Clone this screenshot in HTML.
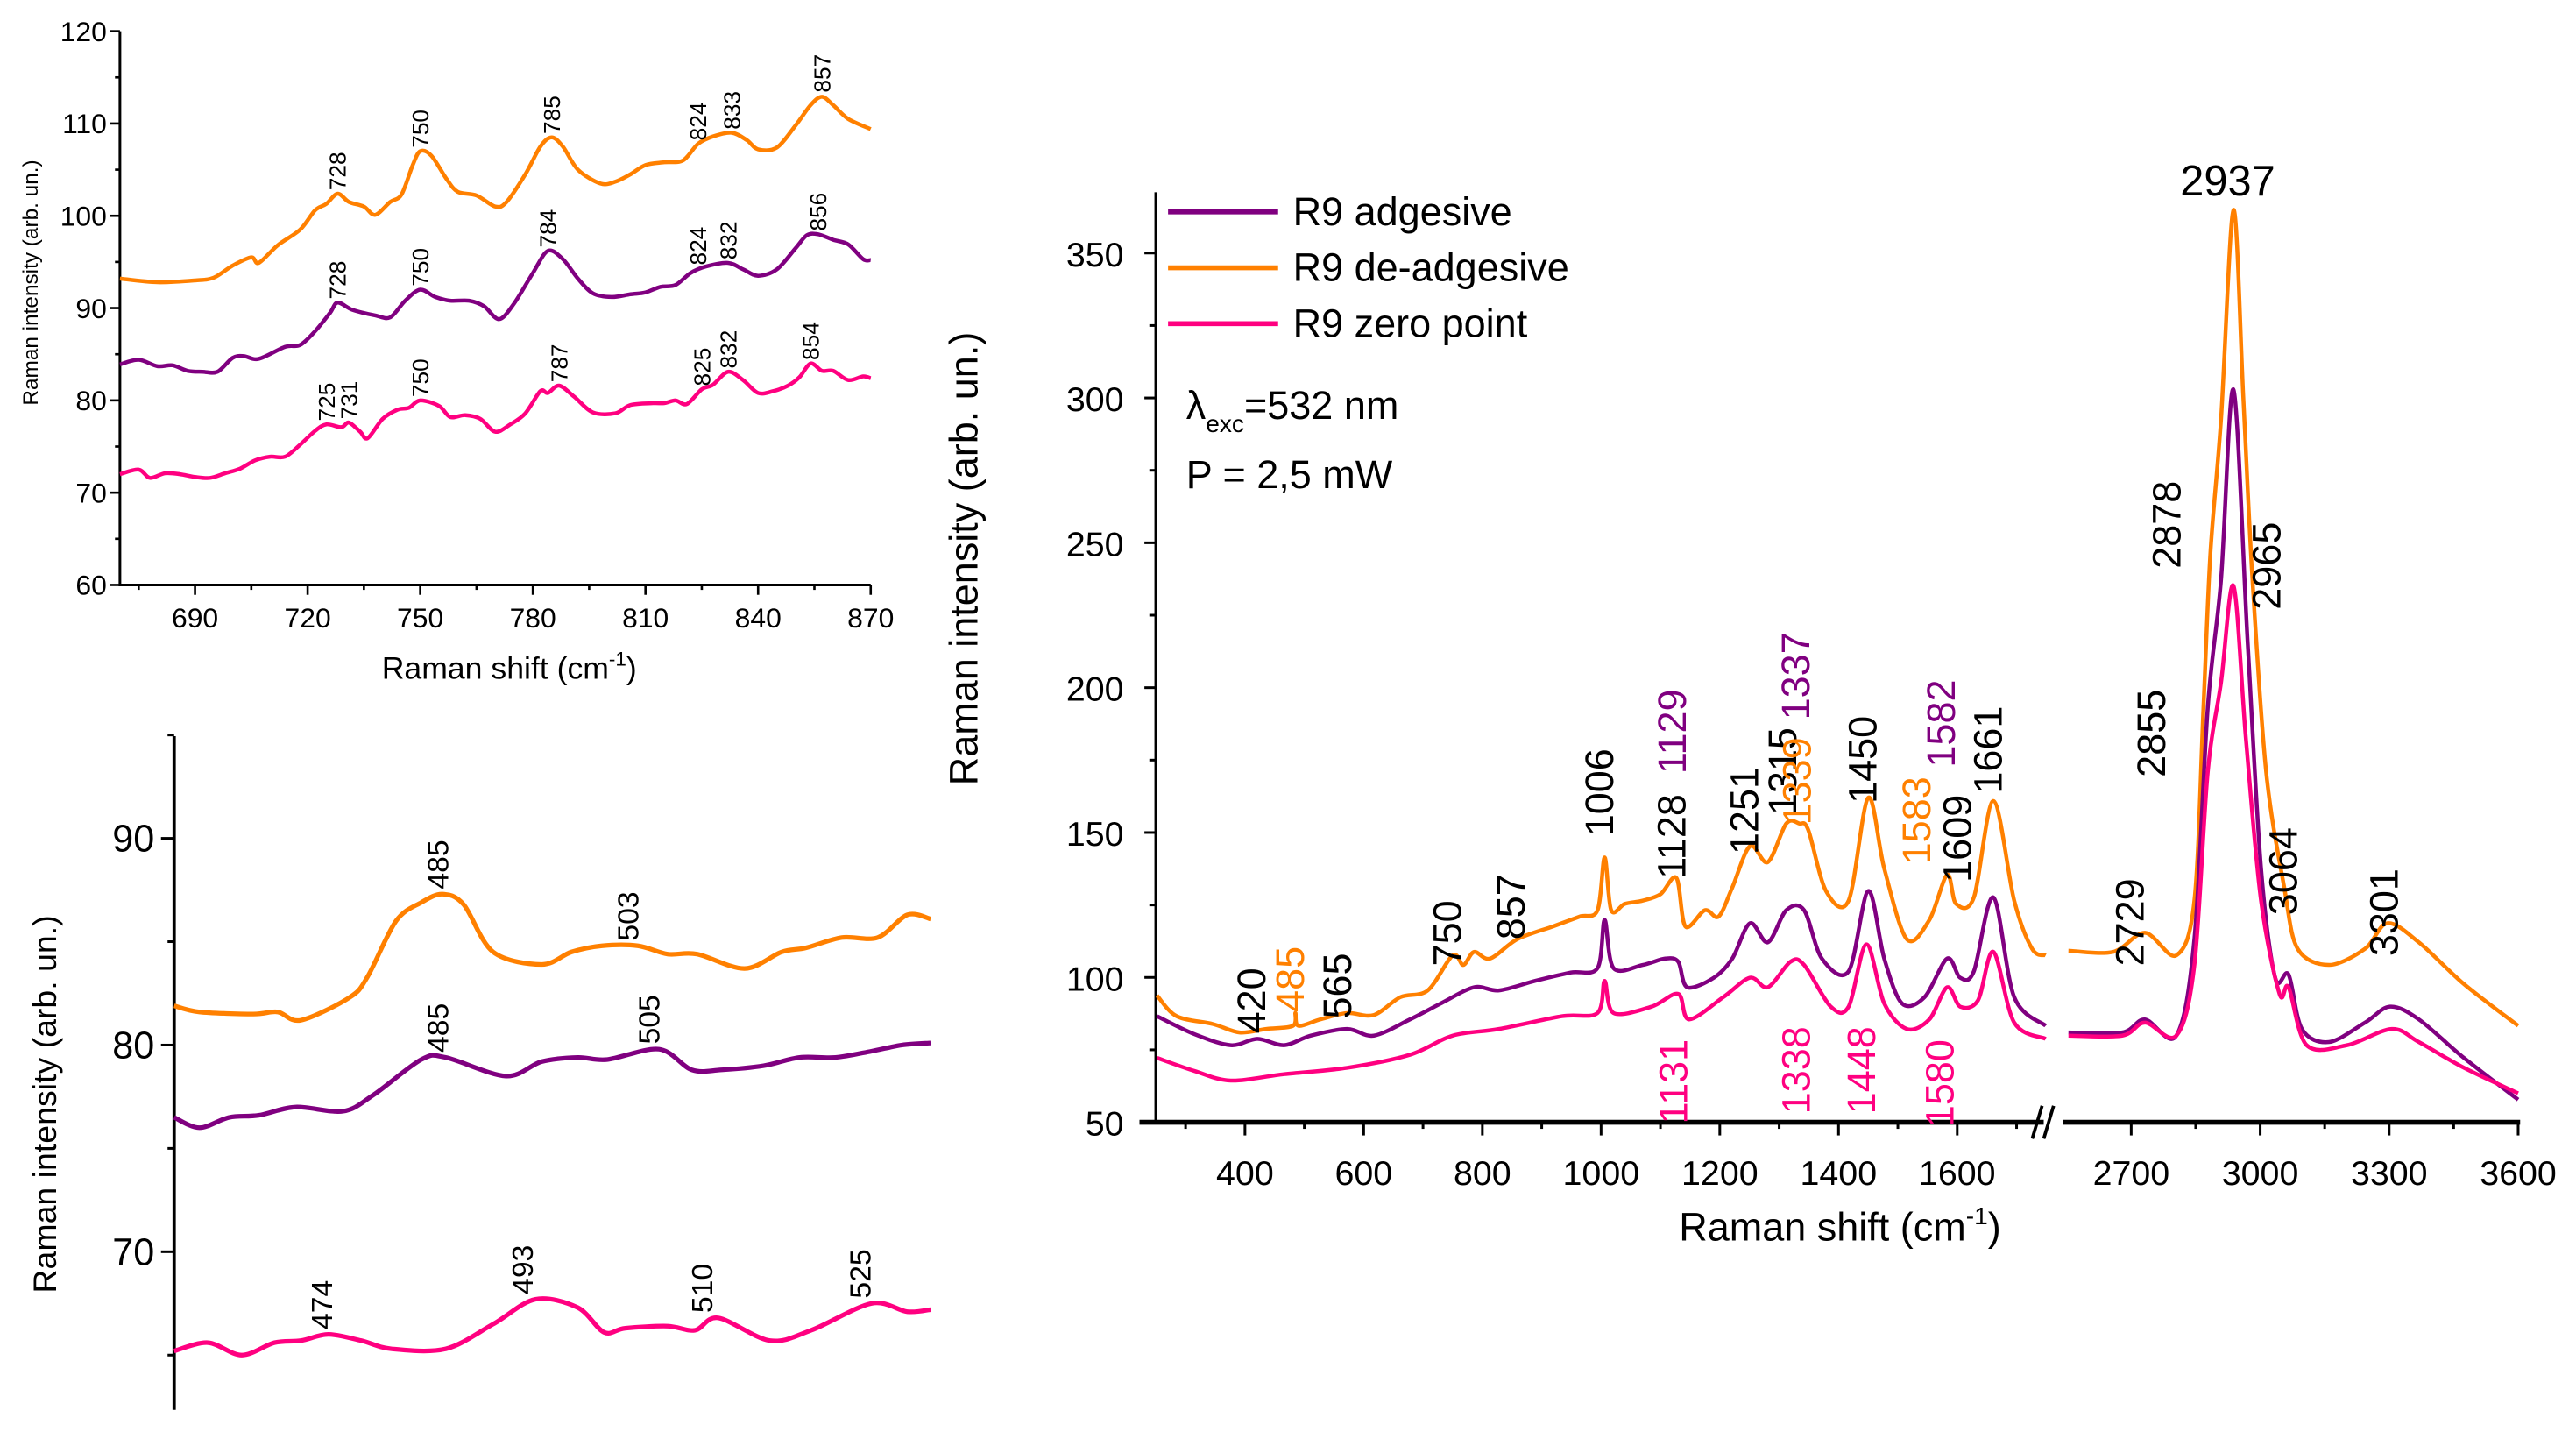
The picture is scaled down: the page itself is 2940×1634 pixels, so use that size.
<!DOCTYPE html>
<html><head><meta charset="utf-8"><style>
html,body{margin:0;padding:0;background:#fff;}
svg{display:block;font-family:"Liberation Sans",Arial,sans-serif;}
</style></head><body>
<svg id="fig" xmlns="http://www.w3.org/2000/svg" width="2940" height="1634" viewBox="0 0 1568 871.5" preserveAspectRatio="none">
<rect width="1568" height="871.5" fill="#fff"/>
<g id="tl"></g>
<g id="bl"></g>
<g id="rc"></g>
</svg>
<script>
// ---------- Top-left chart data ----------
const tlShiftO=[670,680,690,695,700,705,707,712,718,722,725,728,731,735,738,742,745,748,750,753,757,760,765,770,773,778,782,785,788,792,798,802,806,810,815,820,824,828,833,837,840,845,850,854,857,860,864,870];
const tlValO=[93.2,92.8,93.0,93.3,94.6,95.5,94.9,96.8,98.5,100.6,101.3,102.4,101.5,101.0,100.1,101.5,102.3,105.5,107.0,106.5,104.0,102.6,102.2,101.0,101.5,104.5,107.5,108.5,107.5,105.0,103.5,103.7,104.5,105.5,105.8,106.0,107.8,108.6,109.0,108.2,107.2,107.4,109.8,112.0,112.9,112.0,110.5,109.4];
const tlShiftP=[670,675,680,684,688,692,696,700,703,707,714,718,722,726,728,732,738,742,746,750,754,758,763,767,771,775,780,784,788,792,796,801,806,810,814,818,822,826,832,836,840,845,850,853,856,860,864,868,870];
const tlValP=[83.9,84.4,83.7,83.8,83.2,83.1,83.1,84.6,84.8,84.5,85.8,86.0,87.5,89.5,90.6,89.8,89.2,89.0,90.8,92.0,91.2,90.8,90.8,90.2,88.8,90.5,93.8,96.2,95.3,93.2,91.6,91.2,91.5,91.7,92.3,92.5,93.8,94.5,94.9,94.2,93.5,94.2,96.5,97.9,98.0,97.4,96.9,95.3,95.2];
const tlShiftZ=[670,675,678,682,686,690,694,698,702,706,710,714,718,722,725,729,731,734,736,740,744,747,750,755,758,762,766,770,774,778,782,784,787,791,796,802,806,812,815,818,821,825,828,832,836,840,844,848,851,854,857,860,864,868,870];
const tlValZ=[72.0,72.5,71.6,72.1,72.0,71.7,71.6,72.1,72.6,73.5,73.9,73.9,75.2,76.7,77.4,77.1,77.6,76.6,75.9,78.0,79.0,79.2,80.0,79.4,78.2,78.4,78.0,76.6,77.4,78.6,81.0,80.8,81.6,80.4,78.7,78.6,79.5,79.7,79.7,80.0,79.6,81.2,81.7,83.1,82.2,80.8,81.0,81.6,82.5,84.0,83.2,83.2,82.2,82.6,82.4];
const tlXTicks=[690,720,750,780,810,840,870];
const tlYTicks=[60,70,80,90,100,110,120];
const tlLabO=[728,750,785,824,833,857], tlLabOV=[102.4,107,108.5,107.8,109,113];
const tlLabP=[728,750,784,824,832,856], tlLabPV=[90.6,92,96.2,94.3,94.9,98];
const tlLabZ=[725,731,750,787,825,832,854], tlLabZV=[77.4,77.6,80,81.6,81.2,83.1,84];

// ---------- Bottom-left chart data ----------
const blShiftO=[460,462.4,467.5,469.8,472,476.6,478.3,481,483.4,485.4,487.4,490.2,494.8,497.6,500.5,503.9,506.7,509.5,514,517.5,519.8,523.2,526.6,529.4,531.6];
const blValO=[81.9,81.6,81.5,81.6,81.2,82.3,83.3,86.0,86.9,87.3,86.8,84.5,83.9,84.5,84.8,84.8,84.4,84.4,83.7,84.5,84.7,85.2,85.2,86.3,86.1];
const blShiftP=[460,462.4,465.2,468,471.5,476,478.9,483.4,485.7,491.4,494.8,498.2,501,505.9,509,511.8,515.8,519.2,522.6,526,528.9,531.6];
const blValP=[76.5,76.0,76.5,76.6,77.0,76.8,77.6,79.3,79.4,78.5,79.2,79.4,79.3,79.8,78.8,78.8,79.0,79.4,79.4,79.7,80.0,80.1];
const blShiftZ=[460,463.2,466.4,469.5,472,474.6,477.7,480.6,485.7,490.2,494.2,498.2,500.7,502.7,506.7,509.3,511.5,516.4,520.3,526,529.4,531.6];
const blValZ=[65.2,65.6,65.0,65.6,65.7,66.0,65.7,65.3,65.3,66.5,67.7,67.3,66.1,66.3,66.4,66.2,66.8,65.7,66.2,67.5,67.1,67.2];
const blYTicks=[70,80,90];
const blLabO=[485,503], blLabOV=[87.3,84.8];
const blLabP=[485,505], blLabPV=[79.4,79.8];
const blLabZ=[474,493,510,525], blLabZV=[66.0,67.7,66.8,67.5];

// ---------- Main chart data ----------
const rShiftO=[252,285,346,391,436,481,485,490,527,572,617,662,708,750,768,786,813,859,919,964,994,1006,1017,1040,1070,1100,1127,1142,1175,1198,1221,1251,1281,1312,1334,1349,1379,1417,1450,1477,1515,1553,1583,1598,1628,1661,1696,1726,1749,
 2554,2658,2732,2805,2847,2868,2884,2909,2938,2961,2982,3014,3056,3087,3160,3244,3296,3369,3474,3600];
const rValO=[93.7,86.6,83.9,81.0,82.2,83.3,87.7,83.3,85.5,87.7,87.0,93.2,95.5,107.6,104.3,108.8,106.5,113.2,117.6,121.0,123.2,141.4,123.2,125.4,126.5,128.7,134.3,117.6,123.2,121.0,131.0,145.3,139.8,153.1,153.1,150.9,129.8,126.5,162,137.6,113.2,119.8,135.4,125.4,127.6,160.9,126.5,109.9,107.6,
 109.2,108.8,115.4,107.6,126.5,193,246,292.8,364.9,299.4,237.4,170.8,131.0,109.9,104.3,109.9,118.7,112.1,97.7,83.3];
const rShiftP=[252,315,376,421,466,511,572,617,678,730,786,828,889,949,994,1006,1021,1070,1108,1130,1145,1190,1221,1251,1281,1312,1342,1372,1417,1450,1477,1507,1545,1583,1605,1628,1661,1696,1749,
 2554,2679,2732,2805,2847,2878,2909,2938,2971,3002,3035,3066,3097,3160,3244,3302,3369,3474,3600];
const rValP=[86.6,80.4,76.6,78.8,76.6,79.9,82.2,79.9,85.5,91.0,96.6,95.5,98.8,101.7,103.2,119.8,103.2,104.3,106.5,105.4,96.6,99.9,106.5,118.7,112.1,123.2,123.2,106.5,102.1,129.8,106.5,91.0,93.2,106.5,99.9,102.1,127.6,93.2,83.3,
 81.0,81.0,85.5,79.9,113.2,193,237.4,302.8,215.2,137.6,99.9,101.0,82.2,77.7,84.4,89.9,85.5,72.2,57.8];
const rShiftZ=[252,315,376,466,572,678,750,828,934,994,1006,1021,1085,1130,1148,1206,1251,1281,1319,1342,1387,1417,1447,1477,1515,1553,1583,1605,1635,1661,1696,1749,
 2554,2679,2732,2805,2847,2878,2909,2938,2967,3002,3045,3066,3108,3202,3306,3369,3474,3600];
const rValZ=[72.2,67.7,64.4,66.6,68.8,73.3,79.9,82.2,86.6,87.7,98.8,87.7,89.9,94.3,85.5,93.2,99.9,96.6,105.4,104.3,89.9,89.9,111.4,91.0,82.2,85.5,96.6,89.9,92.1,108.8,84.4,78.8,
 79.9,79.9,84.4,79.9,104.3,170.8,201.9,235.1,182,126.5,94.3,96.6,76.6,76.6,82.2,77.7,68.8,60.0];
const rYTicks=[50,100,150,200,250,300,350];
const rXTicks1=[400,600,800,1000,1200,1400,1600];
const rXTicks2=[2700,3000,3300,3600];
const rLabK=[420,565,750,857,1006,1128,1251,1315,1450,1609,1661,2729,2855,2878,2965,3064,3301];
const rLabKAt=[420,565,750,857,1006,1128,1251,1315,1450,1609,1661,2710,2760,2795,3028,3066,3301];
const rLabKV=[80.6,85.7,103.9,113,148.7,134,142.4,156,160,132.8,163.4,103.9,169.1,241.1,226.9,121.5,107.3];
const rLabO=[485,1339,1583], rLabOAt=[485,1339,1541], rLabOV=[88,152.6,139];
const rLabP=[1129,1337,1582], rLabPV=[170.2,188.9,172.5];
const rLabZ=[1131,1338,1448,1580], rLabZV=[49.4,52.8,52.8,48.3];

const NS='http://www.w3.org/2000/svg';
const COL={o:'#FF8000',p:'#800080',z:'#FF0080',k:'#000'};
function mk(tag,attrs,parent){const e=document.createElementNS(NS,tag);for(const k in attrs)e.setAttribute(k,attrs[k]);parent.appendChild(e);return e;}
function smooth(pts){
  if(pts.length<2)return '';
  let d='M'+pts[0][0].toFixed(2)+','+pts[0][1].toFixed(2);
  for(let i=0;i<pts.length-1;i++){
    const p0=pts[Math.max(0,i-1)],p1=pts[i],p2=pts[i+1],p3=pts[Math.min(pts.length-1,i+2)];
    const t=0.16;
    const c1=[p1[0]+(p2[0]-p0[0])*t,p1[1]+(p2[1]-p0[1])*t];
    const c2=[p2[0]-(p3[0]-p1[0])*t,p2[1]-(p3[1]-p1[1])*t];
    d+=' C'+c1[0].toFixed(2)+','+c1[1].toFixed(2)+' '+c2[0].toFixed(2)+','+c2[1].toFixed(2)+' '+p2[0].toFixed(2)+','+p2[1].toFixed(2);
  }
  return d;
}
function text(parent,x,y,str,size,color,anchor,rot){
  const t=mk('text',{x:0,y:0,'font-size':size,fill:color,'text-anchor':anchor||'middle',transform:'translate('+x+','+y+')'+(rot?' rotate('+rot+')':'')},parent);
  t.textContent=str;return t;
}

// ---------- Top-left ----------
(function(){
  const g=document.getElementById('tl');
  const X0=73,X1=530,Y0=356,Y1=19;
  const xT=v=>X0+(v-670)*(X1-X0)/200;
  const yT=v=>Y0-(v-60)*(Y0-Y1)/60;
  const ax=mk('path',{d:'M'+X0+','+Y1+' V'+Y0+' H'+X1,stroke:'#000','stroke-width':1.6,fill:'none'},g);
  
  
  for(let v=60;v<=120;v+=5){const l=mk('line',{x1:X0-(v%10?3:6),x2:X0,y1:yT(v),y2:yT(v),stroke:'#000','stroke-width':1.4},g);
    }
  tlYTicks.forEach(v=>{const t=text(g,X0-8,yT(v)+6,String(v),17,'#000','end');
    });
  for(let v=675;v<=870;v+=15){const l=mk('line',{x1:xT(v),x2:xT(v),y1:Y0,y2:Y0+((v-690)%30?3:6),stroke:'#000','stroke-width':1.4},g);
    }
  tlXTicks.forEach(v=>{const t=text(g,xT(v),Y0+26,String(v),17,'#000');
    });
  const xt=mk('text',{x:310,y:413,'font-size':19,'text-anchor':'middle',fill:'#000'},g);
  xt.innerHTML='Raman shift (cm<tspan dy="-8" font-size="12">-1</tspan><tspan dy="8">)</tspan>';
  
  const yt=text(g,23,172,'Raman intensity (arb. un.)',13,'#000','middle',-90);
  
  [[tlShiftO,tlValO,COL.o,'series-de-adgesive'],[tlShiftP,tlValP,COL.p,'series-adgesive'],[tlShiftZ,tlValZ,COL.z,'series-zero-point']].forEach(s=>{
    const p=mk('path',{d:smooth(s[0].map((x,i)=>[xT(x),yT(s[1][i])])),stroke:s[2],'stroke-width':2.4,fill:'none'},g);
    
  });
  [[tlLabO,tlLabOV],[tlLabP,tlLabPV],[tlLabZ,tlLabZV]].forEach(s=>{
    s[0].forEach((c,i)=>{const t=text(g,xT(c)+5,yT(s[1][i])-2,String(c),14,'#000','start',-90);
      });
  });
})();

// ---------- Bottom-left ----------
(function(){
  const g=document.getElementById('bl');
  const X0=106,X1=569,Ytop=448,Ybot=858;
  const xB=v=>X0+(v-460)*(X1-X0)/72;
  const yB=v=>636-(v-80)*12.58;
  const ax=mk('line',{x1:X0,x2:X0,y1:Ytop,y2:Ybot,stroke:'#000','stroke-width':2},g);
  
  for(let v=65;v<=95;v+=5){const l=mk('line',{x1:X0-(v%10?4:8),x2:X0,y1:yB(v),y2:yB(v),stroke:'#000','stroke-width':1.6},g);
    }
  blYTicks.forEach(v=>{const t=text(g,X0-12,yB(v)+8,String(v),23,'#000','end');
    });
  const yt=text(g,34,672,'Raman intensity (arb. un.)',20,'#000','middle',-90);
  
  [[blShiftO,blValO,COL.o,'series-de-adgesive'],[blShiftP,blValP,COL.p,'series-adgesive'],[blShiftZ,blValZ,COL.z,'series-zero-point']].forEach(s=>{
    const p=mk('path',{d:smooth(s[0].map((x,i)=>[xB(x),yB(s[1][i])])),stroke:s[2],'stroke-width':2.8,fill:'none'},g);
    
  });
  [[blLabO,blLabOV],[blLabP,blLabPV],[blLabZ,blLabZV]].forEach(s=>{
    s[0].forEach((c,i)=>{const t=text(g,xB(c)+6,yB(s[1][i])-3,String(c),18,'#000','start',-90);
      });
  });
})();

// ---------- Main chart ----------
(function(){
  const g=document.getElementById('rc');
  const X0=703.6,XB1=1244,XB2=1258,X1=1534,Y0=683,Ytop=117;
  const xR=v=>v<=2000?X0+(v-250)*0.3613:XB2+(v-2550)*0.2617;
  const yR=v=>Y0-(v-50)*1.7633;
  const axy=mk('line',{x1:X0,x2:X0,y1:Ytop,y2:Y0,stroke:'#000','stroke-width':1.8},g);
  
  const ax1=mk('line',{x1:X0-10,x2:XB1,y1:Y0,y2:Y0,stroke:'#000','stroke-width':3},g);
  
  const ax2=mk('line',{x1:XB2-2,x2:X1,y1:Y0,y2:Y0,stroke:'#000','stroke-width':3},g);
  
  const br=mk('path',{d:'M1237,693 L1243,673 M1244,693 L1250,673',stroke:'#000','stroke-width':2,fill:'none'},g);
  
  for(let v=75;v<=350;v+=25){const l=mk('line',{x1:X0-(v%50?4:7),x2:X0,y1:yR(v),y2:yR(v),stroke:'#000','stroke-width':1.6},g);
    }
  rYTicks.forEach(v=>{const t=text(g,684,yR(v)+8,String(v),21,'#000','end');
    });
  for(let v=300;v<=1700;v+=100){const l=mk('line',{x1:xR(v),x2:xR(v),y1:Y0,y2:Y0+(v%200?4:8),stroke:'#000','stroke-width':1.6},g);
    }
  for(let v=2700;v<=3600;v+=150){const l=mk('line',{x1:xR(v),x2:xR(v),y1:Y0,y2:Y0+(v%300?4:8),stroke:'#000','stroke-width':1.6},g);
    }
  rXTicks1.concat(rXTicks2).forEach(v=>{const t=text(g,xR(v),721,String(v),21,'#000');
    });
  const xt=mk('text',{x:1120,y:755,'font-size':24,'text-anchor':'middle',fill:'#000'},g);
  xt.innerHTML='Raman shift (cm<tspan dy="-10" font-size="15">-1</tspan><tspan dy="10">)</tspan>';
  
  const yt=text(g,595,340,'Raman intensity (arb. un.)',24,'#000','middle',-90);
  
  function draw(sx,sv,col,name){
    const a=[],b=[];
    sx.forEach((x,i)=>{(x<=2000?a:b).push([xR(x),yR(sv[i])]);});
    const p=mk('path',{d:smooth(a)+' '+smooth(b),stroke:col,'stroke-width':2.4,fill:'none'},g);
    
  }
  draw(rShiftO,rValO,COL.o,'series-de-adgesive');
  draw(rShiftP,rValP,COL.p,'series-adgesive');
  draw(rShiftZ,rValZ,COL.z,'series-zero-point');
  [[rLabK,rLabKAt,rLabKV,COL.k],[rLabO,rLabOAt,rLabOV,COL.o],[rLabP,rLabP,rLabPV,COL.p],[rLabZ,rLabZ,rLabZV,COL.z]].forEach(s=>{
    s[0].forEach((c,i)=>{const t=text(g,xR(s[1][i])+5,yR(s[2][i]),String(c),24,s[3],'start',-90);
      });
  });
  const pk=text(g,1356,119,'2937',26,'#000');
  
  const leg=[['R9 adgesive',COL.p,129],['R9 de-adgesive',COL.o,163],['R9 zero point',COL.z,197]];
  leg.forEach(e=>{
    const gr=mk('g',{},g);
    
    mk('line',{x1:711,x2:778,y1:e[2],y2:e[2],stroke:e[1],'stroke-width':3},gr);
    text(gr,787,e[2]+8,e[0],24,'#000','start');
  });
  const lam=mk('text',{x:722,y:255,'font-size':24,fill:'#000'},g);
  lam.innerHTML='λ<tspan dy="8" font-size="15">exc</tspan><tspan dy="-8">=532 nm</tspan>';
  
  const pw=text(g,722,297,'P = 2,5 mW',24,'#000','start');
  
})();
</script>
</body></html>
